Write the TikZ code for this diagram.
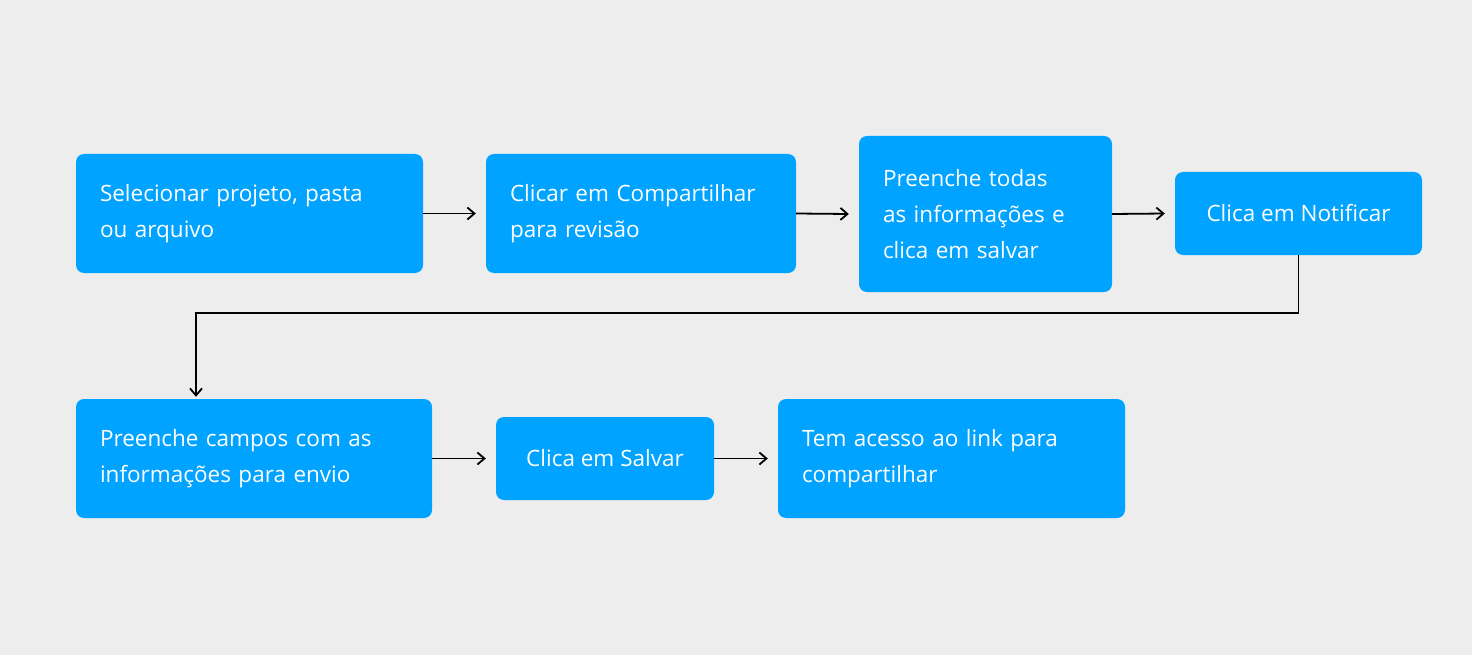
\documentclass[tikz,border=0pt]{standalone}
\usepackage{fontspec}
\usetikzlibrary{arrows.meta}
\setmainfont{Open Sans}
\begin{document}
\begin{tikzpicture}[x=1pt,y=1pt,
  box/.style={fill=boxblue,rounded corners=8pt,inner sep=0pt,text=white,
    font=\fontsize{22.5}{36}\selectfont},
  arr/.style={-{Straight Barb[length=7pt,width=12pt,line width=1.8pt]},line width=1.8pt}]
\definecolor{boxblue}{HTML}{00A3FF}
\definecolor{bg}{HTML}{EDEDED}
\fill[bg] (0,0) rectangle (1472,-655);
\useasboundingbox (0,0) rectangle (1472,-655);
\node[box,minimum width=347,minimum height=119,text width=299,align=left] (a) at (249.5,-213.5) {Selecionar projeto, pasta\\ou arquivo};
\node[box,minimum width=310,minimum height=119,text width=262,align=left] (b) at (641,-213.5) {Clicar em Compartilhar\\para revisão};
\node[box,minimum width=253,minimum height=156,text width=205,align=left] (c) at (985.5,-214) {Preenche todas\\as informações e\\clica em salvar};
\node[box,minimum width=247,minimum height=83,align=center] (d) at (1298.5,-213.5) {Clica em Notificar};
\node[box,minimum width=356,minimum height=119,text width=308,align=left] (e) at (254,-458.5) {Preenche campos com as\\informações para envio};
\node[box,minimum width=218,minimum height=83,align=center] (f) at (605,-458.5) {Clica em Salvar};
\node[box,minimum width=347,minimum height=119,text width=299,align=left] (g) at (951.5,-458.5) {Tem acesso ao link para\\compartilhar};
\draw[arr] (a.east) -- ([xshift=-10pt]b.west);
\draw[arr] (b.east) -- ([xshift=-10pt]c.west);
\draw[arr] (c.east) -- ([xshift=-10pt]d.west);
\draw[arr] (d.south) -- ++(0,-58) -| ([yshift=2pt,xshift=-58pt]e.north);
\draw[arr] (e.east) -- ([xshift=-10pt]f.west);
\draw[arr] (f.east) -- ([xshift=-10pt]g.west);
\end{tikzpicture}
\end{document}
